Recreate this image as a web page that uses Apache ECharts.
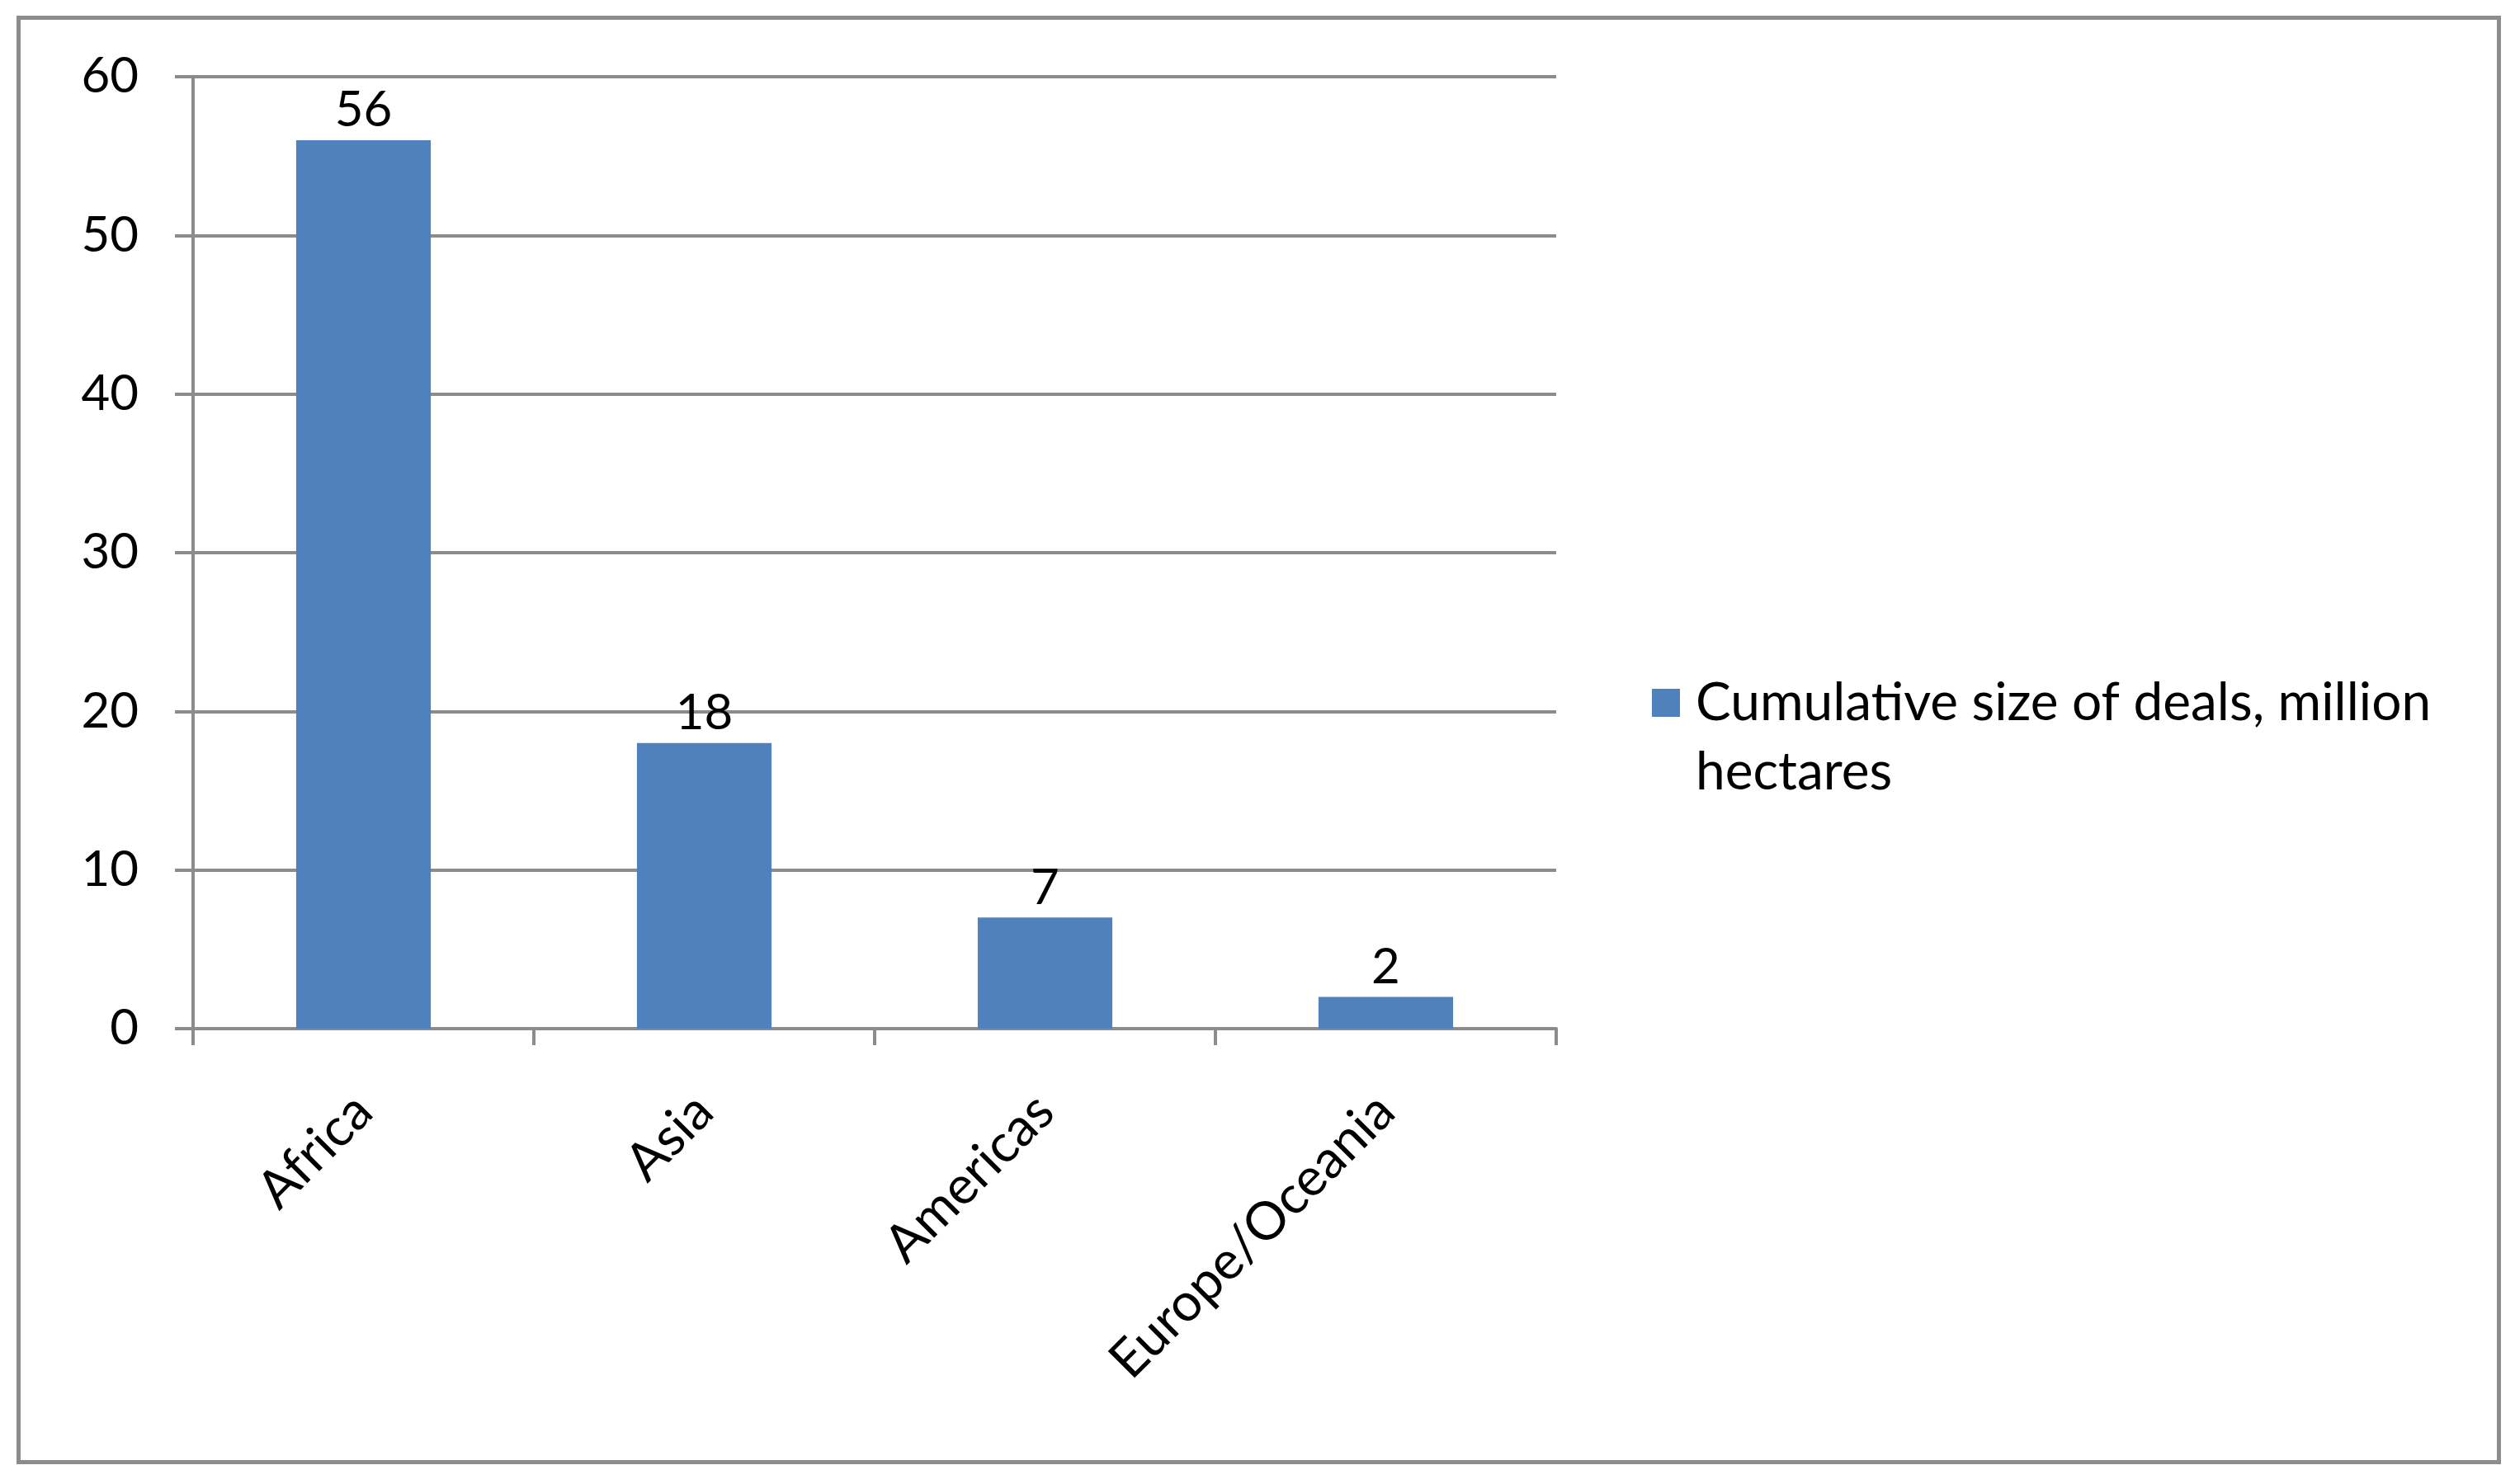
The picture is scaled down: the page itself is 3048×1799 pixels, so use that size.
<!DOCTYPE html>
<html>
<head>
<meta charset="utf-8">
<script src="https://cdn.jsdelivr.net/npm/echarts@6/dist/echarts.min.js"></script>
<style>
html,body{margin:0;padding:0;background:#fff;}
#chart{width:3048px;height:1799px;}
</style>
</head>
<body>
<div id="chart"></div>
<script>
const categories = ["Africa", "Asia", "Americas", "Europe/Oceania"];
const seriesName = "Cumulative size of deals, million hectares";
const legendLines = ["Cumulative size of deals, million", "hectares"];
const values = [56, 18, 7, 2];
const yTicks = { min: 0, max: 60, interval: 10 };

const FONT = "Lato";
const chart = echarts.init(document.getElementById('chart'));
chart.setOption({
  backgroundColor: '#fff',
  animation: false,
  textStyle: { fontFamily: FONT },
  graphic: [{
    type: 'rect', left: 20, top: 19, z: -1,
    shape: { width: 3006, height: 1751 },
    style: { fill: '#fff', stroke: '#8c8c8c', lineWidth: 5 }
  }],
  grid: { left: 234, right: 1162, top: 93, bottom: 552, containLabel: false },
  legend: {
    left: 2002, top: 810,
    padding: 0,
    orient: 'vertical',
    itemWidth: 48, itemHeight: 118,
    icon: 'path://M0,0H34V34H0Z M47.99,118H48V117.99H47.99Z',
    itemGap: 10,
    data: [seriesName],
    formatter: function () { return legendLines.join('\n'); },
    textStyle: { fontFamily: FONT, fontSize: 64, color: '#000', lineHeight: 84 }
  },
  xAxis: {
    type: 'category',
    data: categories,
    axisLine: { lineStyle: { color: '#8c8c8c', width: 4 } },
    axisTick: { show: true, length: 20, lineStyle: { color: '#8c8c8c', width: 4 } },
    axisLabel: { rotate: 45, margin: 90, fontSize: 64, color: '#000', fontFamily: FONT, interval: 0 }
  },
  yAxis: {
    type: 'value',
    min: yTicks.min, max: yTicks.max, interval: yTicks.interval,
    axisLine: { show: true, lineStyle: { color: '#8c8c8c', width: 4 } },
    axisTick: { show: true, length: 22, lineStyle: { color: '#8c8c8c', width: 4 } },
    splitLine: { lineStyle: { color: '#8c8c8c', width: 4 } },
    axisLabel: { margin: 66, fontSize: 60, color: '#000', fontFamily: FONT }
  },
  series: [{
    name: seriesName,
    type: 'bar',
    data: values,
    barWidth: '39.5%',
    itemStyle: { color: '#4F81BD' },
    label: { show: true, position: 'top', distance: 6, fontSize: 60, color: '#000', fontFamily: FONT }
  }]
});
</script>
</body>
</html>
